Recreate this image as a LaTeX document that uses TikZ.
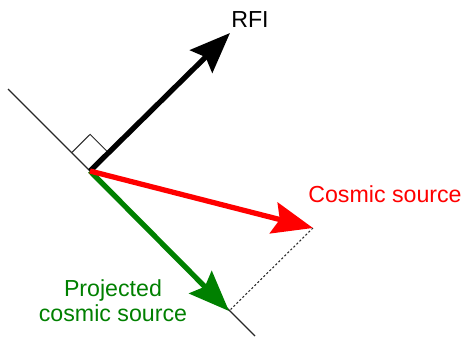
\documentclass[tikz,border=0pt]{standalone}
\usepackage{fontspec}
\setmainfont{Liberation Sans}
\usetikzlibrary{arrows.meta,positioning,calc}
\definecolor{SrcRed}{RGB}{255,0,0}
\definecolor{ProjGreen}{RGB}{0,128,0}
\definecolor{AxisGray}{RGB}{40,40,40}

\begin{document}
\begin{tikzpicture}[
    x=0.02cm, y=-0.02cm,
    vec/.style={-{Stealth[length=23pt,width=18pt,inset=3.5pt]}, line width=3pt},
    axis/.style={draw=AxisGray, line width=0.7pt},
    label/.style={inner sep=0pt, align=center, font=\fontsize{13.2pt}{14.2pt}\selectfont}
  ]
    \useasboundingbox (0,0) rectangle (464,336);

    \coordinate (origin) at (90,171);
    \coordinate (lineA) at (8,89);
    \coordinate (lineB) at (255,336);
    \coordinate (rfi) at (230,33);
    \coordinate (cosmic) at (313,228);
    \coordinate (proj) at (229,311);
    \coordinate (markA) at ($(origin)!0.52cm!(lineA)$);
    \coordinate (markB) at ($(origin)!0.52cm!(rfi)$);
    \coordinate (markC) at ($(markA)+(markB)-(origin)$);

    \draw[axis] (lineA) -- (lineB);
    \draw[axis, line width=0.6pt] (markA) -- (markC) -- (markB);
    \draw[AxisGray, line width=0.6pt, dash pattern=on 1.2pt off 1.2pt] (cosmic) -- (proj);

    \draw[vec, black] (origin) -- (rfi);
    \draw[vec, ProjGreen] (origin) -- (proj);
    \draw[vec, SrcRed] (origin) -- (cosmic);

    \node[label] (rfilabel) at (250,20) {RFI};
    \node[label, text=SrcRed] (cosmiclabel) at (385,194) {Cosmic source};
    \node[label, text=ProjGreen] (projlabel) at (113,301) {Projected\\cosmic source};
  \end{tikzpicture}
\end{document}
